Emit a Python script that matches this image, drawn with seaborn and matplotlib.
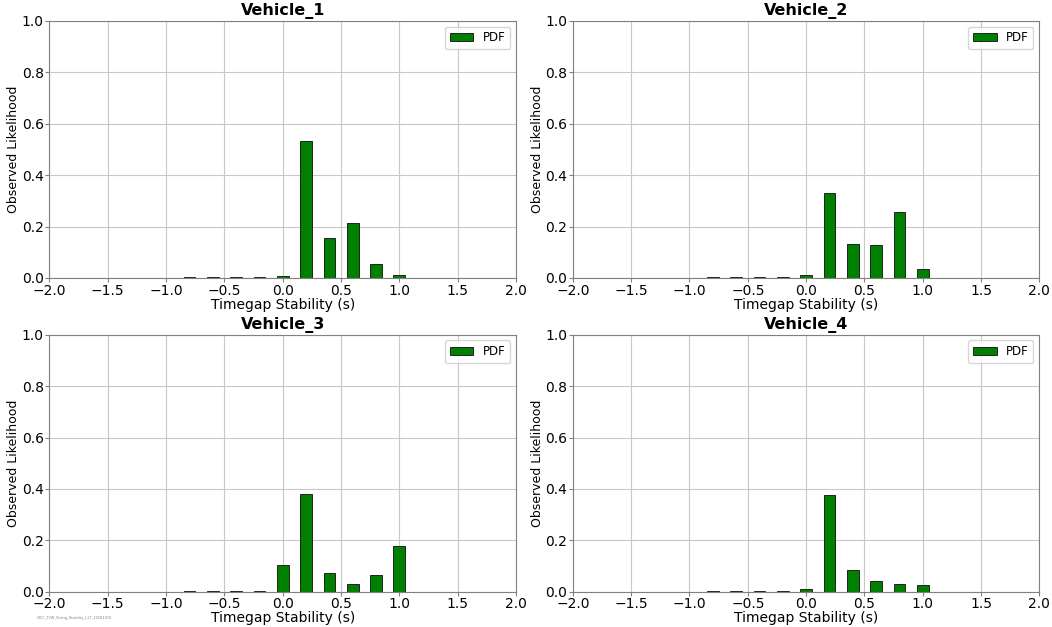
import matplotlib
matplotlib.use('Agg')
import matplotlib.pyplot as plt
import seaborn as sns
import pandas as pd

# bins das barras (centro) e probabilidades observadas por veiculo
bins = [-0.8, -0.6, -0.4, -0.2, 0.0, 0.2, 0.4, 0.6, 0.8, 1.0]
vehicle_1 = [0.002, 0.002, 0.002, 0.002, 0.009, 0.533, 0.156, 0.214, 0.056, 0.012]
vehicle_2 = [0.002, 0.002, 0.002, 0.002, 0.010, 0.329, 0.131, 0.130, 0.255, 0.036]
vehicle_3 = [0.002, 0.002, 0.002, 0.002, 0.104, 0.379, 0.074, 0.029, 0.066, 0.177]
vehicle_4 = [0.002, 0.002, 0.002, 0.002, 0.013, 0.375, 0.084, 0.041, 0.030, 0.025]
titles = ['Vehicle_1', 'Vehicle_2', 'Vehicle_3', 'Vehicle_4']
x_ticks = [-2.0, -1.5, -1.0, -0.5, 0.0, 0.5, 1.0, 1.5, 2.0]
y_ticks = [0.0, 0.2, 0.4, 0.6, 0.8, 1.0]
footnote = 'OICC_T2W_String_Stability_L17_20181010'

sns.set_style('whitegrid', {'axes.edgecolor': '#808080', 'grid.color': '#c8c8c8',
                            'xtick.bottom': True, 'ytick.left': True,
                            'text.color': 'black', 'axes.labelcolor': 'black',
                            'xtick.color': 'black', 'ytick.color': 'black'})
plt.rcParams['font.family'] = ['DejaVu Sans']

fig, axes = plt.subplots(2, 2, figsize=(10.52, 6.27), dpi=100)
fig.subplots_adjust(left=0.047, right=0.988, top=0.967, bottom=0.056, wspace=0.122, hspace=0.22)

for ax, name, vals in zip(axes.flat, titles, [vehicle_1, vehicle_2, vehicle_3, vehicle_4]):
    df = pd.DataFrame({'x': bins, 'y': vals})
    sns.barplot(data=df, x='x', y='y', native_scale=True, width=0.5, color='green',
                saturation=1, edgecolor='#222222', linewidth=0.7, label='PDF', ax=ax)
    ax.set_xlim(-2.0, 2.0)
    ax.set_ylim(0.0, 1.0)
    ax.set_xticks(x_ticks)
    ax.set_yticks(y_ticks)
    ax.tick_params(labelsize=10, length=3, color='#808080', pad=1)
    ax.set_title(name, fontsize=11.5, fontweight='bold', pad=4)
    ax.set_xlabel('Timegap Stability (s)', fontsize=10, labelpad=0)
    ax.set_ylabel('Observed Likelihood', fontsize=9, labelpad=1)
    ax.grid(True, linewidth=0.8)
    ax.set_axisbelow(True)
    ax.legend(loc='upper right', fontsize=8.5)

fig.text(0.035, 0.012, footnote, fontsize=2.5, color='gray')
fig.savefig('out.png', dpi=100)
